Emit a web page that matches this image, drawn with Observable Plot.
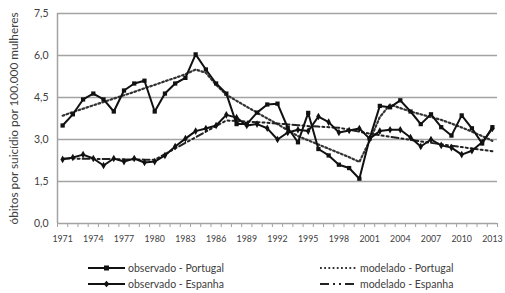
<!DOCTYPE html>
<html>
<head>
<meta charset="utf-8">
<script src="https://cdn.jsdelivr.net/npm/d3@7"></script>
<script src="https://cdn.jsdelivr.net/npm/@observablehq/plot@0.6"></script>
<style>
  html, body { margin: 0; padding: 0; background: #fff; }
  #wrap { position: relative; width: 505px; height: 293px; overflow: hidden; font-family: Lato, "Open Sans", sans-serif; color: #404040; }
  .leg { position: absolute; font-size: 10.5px; line-height: 12px; white-space: nowrap; display: flex; align-items: center; }
  .leg svg { margin-right: 3px; }
</style>
</head>
<body>
<div id="wrap"></div>
<script>
const years = [1971,1972,1973,1974,1975,1976,1977,1978,1979,1980,1981,1982,1983,1984,1985,1986,1987,1988,1989,1990,1991,1992,1993,1994,1995,1996,1997,1998,1999,2000,2001,2002,2003,2004,2005,2006,2007,2008,2009,2010,2011,2012,2013];
const labelYears = [1971,1974,1977,1980,1983,1986,1989,1992,1995,1998,2001,2004,2007,2010,2013];
const yTicks = [0, 1.5, 3.0, 4.5, 6.0, 7.5];

const portugalObs = [3.5,3.9,4.43,4.64,4.43,4.0,4.75,5.0,5.1,4.0,
  4.64,5.0,5.2,6.04,5.5,5.0,4.64,3.55,3.55,3.96,
  4.25,4.28,3.42,2.9,3.95,2.66,2.43,2.1,1.98,1.6,
  3.03,4.2,4.15,4.4,4.0,3.55,3.9,3.44,3.14,3.86,
  3.4,2.86,3.44];
const spainObs = [2.29,2.36,2.46,2.32,2.07,2.32,2.21,2.32,2.18,2.21,
  2.43,2.75,3.03,3.3,3.39,3.5,3.88,3.78,3.5,3.55,
  3.4,3.0,3.25,3.35,3.3,3.82,3.62,3.25,3.32,3.39,
  3.03,3.3,3.35,3.35,3.07,2.75,3.0,2.79,2.71,2.46,
  2.6,2.9,3.39];
const portugalMod = [3.85,3.98,4.1,4.22,4.34,4.46,4.58,4.7,4.83,4.95,
  5.08,5.2,5.33,5.5,5.38,4.95,4.6,4.38,4.17,3.96,
  3.75,3.55,3.33,3.12,2.97,2.82,2.67,2.52,2.37,2.2,
  2.95,3.8,4.25,4.12,4.0,3.9,3.8,3.7,3.57,3.43,
  3.28,3.12,2.95];
const spainMod = [2.32,2.32,2.31,2.31,2.3,2.3,2.29,2.29,2.28,2.28,
  2.48,2.68,2.88,3.08,3.28,3.48,3.68,3.66,3.64,3.62,
  3.6,3.57,3.54,3.51,3.48,3.46,3.44,3.42,3.35,3.28,
  3.21,3.15,3.1,3.04,2.99,2.93,2.88,2.83,2.78,2.73,
  2.68,2.63,2.58];
const seriesNames = ["observado - Portugal", "observado - Espanha", "modelado - Portugal", "modelado - Espanha"];
const yTitle = "óbitos por suicídio por 100.000 mulheres";

const rows = (vals) => years.map((y, i) => ({year: y, value: vals[i]}));
const pObs = rows(portugalObs), sObs = rows(spainObs), pMod = rows(portugalMod), sMod = rows(spainMod);
const tickBounds = d3.range(years[0] - 0.5, years[years.length - 1] + 1, 1);
const fmt = d => d.toFixed(1).replace(".", ",");
const grid = "#a3a3a3";

const chart = Plot.plot({
  width: 505,
  height: 255,
  marginLeft: 57,
  marginRight: 8,
  marginTop: 13,
  marginBottom: 32,
  style: {fontFamily: "Lato, 'Open Sans', sans-serif", color: "#404040", background: "transparent"},
  x: {domain: [years[0] - 0.5, years[years.length - 1] + 0.5]},
  y: {domain: [0, 7.5]},
  marks: [
    Plot.gridY(yTicks, {stroke: grid, strokeOpacity: 1, strokeWidth: 1.5}),
    Plot.ruleX([years[0] - 0.5], {stroke: grid, strokeWidth: 1.5}),
    Plot.axisY(yTicks, {tickSize: 0, tickPadding: 9, tickFormat: fmt, fontSize: 10.5, label: null}),
    Plot.axisY([], {label: yTitle, labelAnchor: "center", labelArrow: "none", labelOffset: 48, fontSize: 11.8, tickSize: 0}),
    Plot.axisX(tickBounds, {tickSize: 4, stroke: grid, strokeWidth: 1, tickFormat: () => "", label: null}),
    Plot.axisX(labelYears, {tickSize: 0, tickPadding: 12, tickFormat: d => String(d), label: null, fontSize: 8.8}),
    Plot.line(pMod, {x: "year", y: "value", stroke: "#333", strokeWidth: 2.2, strokeDasharray: "1.8,2.4"}),
    Plot.line(sMod, {x: "year", y: "value", stroke: "#222", strokeWidth: 2, strokeDasharray: "7,3,2,3,2,3"}),
    Plot.line(sObs, {x: "year", y: "value", stroke: "#111", strokeWidth: 2}),
    Plot.dot(sObs, {x: "year", y: "value", symbol: "diamond", r: 2.3, fill: "#111", stroke: "none"}),
    Plot.line(pObs, {x: "year", y: "value", stroke: "#111", strokeWidth: 2}),
    Plot.dot(pObs, {x: "year", y: "value", symbol: "square", r: 2.4, fill: "#111", stroke: "none"})
  ]
});

const wrap = document.getElementById("wrap");
wrap.appendChild(chart);

const samples = [
  `<svg width="37" height="8"><line x1="0" y1="4" x2="37" y2="4" stroke="#111" stroke-width="2"/><rect x="16" y="1.5" width="5" height="5" fill="#111"/></svg>`,
  `<svg width="37" height="8"><line x1="0" y1="4" x2="37" y2="4" stroke="#111" stroke-width="2"/><path d="M18.5,0.8 L21.5,4 L18.5,7.2 L15.5,4 Z" fill="#111"/></svg>`,
  `<svg width="37" height="8"><line x1="0" y1="4" x2="37" y2="4" stroke="#333" stroke-width="2.2" stroke-dasharray="1.8,2.4"/></svg>`,
  `<svg width="37" height="8"><line x1="0" y1="4" x2="37" y2="4" stroke="#222" stroke-width="2" stroke-dasharray="9,4,2,4,2,4"/></svg>`
];
const pos = [[88, 262], [88, 278], [320, 262], [320, 278]];
seriesNames.forEach((name, i) => {
  const d = document.createElement("div");
  d.className = "leg";
  d.style.left = pos[i][0] + "px";
  d.style.top = pos[i][1] + "px";
  d.innerHTML = samples[i] + `<span>${name}</span>`;
  wrap.appendChild(d);
});
</script>
</body>
</html>
